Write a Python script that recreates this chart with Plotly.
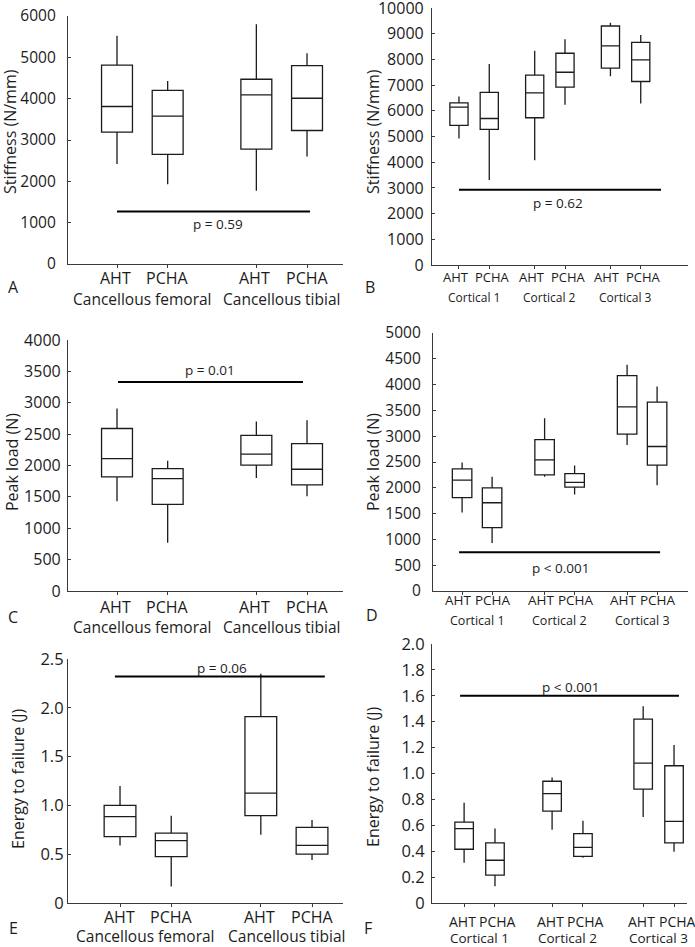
import plotly.graph_objects as go

W, H = 695, 947
FONT = "Open Sans"
INK = "#1c1c1c"
AXIS = "#3a3a3a"

# ---------------- data ----------------
treatments = ["AHT", "PCHA"]
groups_canc = ["Cancellous femoral", "Cancellous tibial"]
groups_cort = ["Cortical 1", "Cortical 2", "Cortical 3"]

# A - stiffness, cancellous (N/mm); order AHT fem, PCHA fem, AHT tib, PCHA tib
stiff_canc_low = [2420, 1930, 1770, 2600]
stiff_canc_q1 = [3190, 2650, 2780, 3230]
stiff_canc_med = [3810, 3580, 4090, 4010]
stiff_canc_q3 = [4810, 4200, 4470, 4800]
stiff_canc_high = [5520, 4430, 5800, 5100]
stiff_canc_pline = 1270
stiff_canc_ptext = "p = 0.59"

# B - stiffness, cortical (N/mm); AHT/PCHA for cortical 1, 2, 3
stiff_cort_low = [4920, 3310, 4080, 6240, 7340, 6280]
stiff_cort_q1 = [5430, 5280, 5730, 6920, 7660, 7140]
stiff_cort_med = [6140, 5700, 6700, 7500, 8530, 7980]
stiff_cort_q3 = [6310, 6720, 7390, 8240, 9300, 8660]
stiff_cort_high = [6560, 7820, 8340, 8780, 9430, 8950]
stiff_cort_pline = 2930
stiff_cort_ptext = "p = 0.62"

# C - peak load, cancellous (N)
load_canc_low = [1430, 770, 1800, 1510]
load_canc_q1 = [1820, 1380, 2005, 1690]
load_canc_med = [2110, 1790, 2180, 1940]
load_canc_q3 = [2590, 1950, 2480, 2350]
load_canc_high = [2910, 2075, 2700, 2720]
load_canc_pline = 3330
load_canc_ptext = "p = 0.01"

# D - peak load, cortical (N)
load_cort_low = [1520, 930, 2215, 1870, 2830, 2050]
load_cort_q1 = [1810, 1230, 2250, 2015, 3040, 2440]
load_cort_med = [2150, 1710, 2540, 2105, 3570, 2800]
load_cort_q3 = [2365, 2000, 2935, 2275, 4175, 3660]
load_cort_high = [2490, 2215, 3350, 2430, 4385, 3965]
load_cort_pline = 750
load_cort_ptext = "p < 0.001"

# E - energy to failure, cancellous (J)
energy_canc_low = [0.59, 0.17, 0.70, 0.44]
energy_canc_q1 = [0.68, 0.475, 0.895, 0.50]
energy_canc_med = [0.885, 0.64, 1.125, 0.59]
energy_canc_q3 = [1.0, 0.715, 1.91, 0.775]
energy_canc_high = [1.2, 0.895, 2.35, 0.85]
energy_canc_pline = 2.32
energy_canc_ptext = "p = 0.06"

# F - energy to failure, cortical (J)
energy_cort_low = [0.31, 0.13, 0.565, 0.35, 0.665, 0.395]
energy_cort_q1 = [0.415, 0.215, 0.71, 0.36, 0.88, 0.465]
energy_cort_med = [0.575, 0.33, 0.845, 0.43, 1.08, 0.63]
energy_cort_q3 = [0.625, 0.465, 0.94, 0.535, 1.42, 1.06]
energy_cort_high = [0.775, 0.575, 0.97, 0.635, 1.52, 1.22]
energy_cort_pline = 1.6
energy_cort_ptext = "p < 0.001"

# y ticks
ticks_stiff_canc = [0, 1000, 2000, 3000, 4000, 5000, 6000]
ticks_stiff_cort = [0, 1000, 2000, 3000, 4000, 5000, 6000, 7000, 8000, 9000, 10000]
ticks_load_canc = [0, 500, 1000, 1500, 2000, 2500, 3000, 3500, 4000]
ticks_load_cort = [0, 500, 1000, 1500, 2000, 2500, 3000, 3500, 4000, 4500, 5000]
ticks_energy_canc = [0, 0.5, 1.0, 1.5, 2.0, 2.5]
labels_energy_canc = ["0", "0.5", "1.0", "1.5", "2.0", "2.5"]
ticks_energy_cort = [0, 0.2, 0.4, 0.6, 0.8, 1.0, 1.2, 1.4, 1.6, 1.8, 2.0]
labels_energy_cort = ["0", "0.2", "0.4", "0.6", "0.8", "1.0", "1.2", "1.4", "1.6", "1.8", "2.0"]

title_stiff = "Stiffness (N/mm)"
title_load = "Peak load (N)"
title_energy = "Energy to failure (J)"


def px_x(v):
    return v / W


def px_y(v):
    return 1 - v / H


def font(size):
    return dict(family=FONT, size=size, color=INK, weight=500)


panels = [
    dict(letter="A", stats=(stiff_canc_low, stiff_canc_q1, stiff_canc_med, stiff_canc_q3, stiff_canc_high),
         groups=groups_canc, pline=stiff_canc_pline, ptext=stiff_canc_ptext,
         yt=ticks_stiff_canc, yl=[str(t) for t in ticks_stiff_canc], ytitle=title_stiff,
         xpx=(68, 343), ypx=(16, 264), pos=[0, 1, 2.75, 3.75], xr=[-0.967, 4.46], bw=0.61,
         pext=(0, 3.81), ptx=2.0, pshift=-12, trt_y=278, grp_y=299, let=(13, 287), tit=(10, 132),
         tf=16, gf=15.5, yf=15.5, ystand=8, nudge=(-2, 0)),
    dict(letter="B", stats=(stiff_cort_low, stiff_cort_q1, stiff_cort_med, stiff_cort_q3, stiff_cort_high),
         groups=groups_cort, pline=stiff_cort_pline, ptext=stiff_cort_ptext,
         yt=ticks_stiff_cort, yl=[str(t) for t in ticks_stiff_cort], ytitle=title_stiff,
         xpx=(432, 688), ypx=(8, 265), pos=[0, 1, 2.5, 3.5, 5, 6], xr=[-0.89, 7.56], bw=0.6,
         pext=(0, 6.67), ptx=3.27, pshift=-13, trt_y=277, grp_y=297, let=(370, 287), tit=(373, 131),
         tf=13, gf=12, yf=16, ystand=4, nudge=(-3, 3)),
    dict(letter="C", stats=(load_canc_low, load_canc_q1, load_canc_med, load_canc_q3, load_canc_high),
         groups=groups_canc, pline=load_canc_pline, ptext=load_canc_ptext,
         yt=ticks_load_canc, yl=[str(t) for t in ticks_load_canc], ytitle=title_load,
         xpx=(68, 343), ypx=(340, 591), pos=[0, 1, 2.75, 3.75], xr=[-0.967, 4.46], bw=0.61,
         pext=(0.02, 3.67), ptx=1.84, pshift=12, trt_y=607, grp_y=627, let=(13, 617), tit=(12, 462),
         tf=16, gf=15.5, yf=16, ystand=3, nudge=(-2, 0)),
    dict(letter="D", stats=(load_cort_low, load_cort_q1, load_cort_med, load_cort_q3, load_cort_high),
         groups=groups_cort, pline=load_cort_pline, ptext=load_cort_ptext,
         yt=ticks_load_cort, yl=[str(t) for t in ticks_load_cort], ytitle=title_load,
         xpx=(433, 688), ypx=(333, 591), pos=[0, 1, 2.75, 3.75, 5.5, 6.5], xr=[-0.97, 7.53], bw=0.65,
         pext=(-0.1, 6.6), ptx=3.27, pshift=-16, trt_y=600, grp_y=620, let=(372, 615), tit=(373, 462),
         tf=13.5, gf=12.5, yf=15.5, ystand=8, nudge=(-4, 1)),
    dict(letter="E", stats=(energy_canc_low, energy_canc_q1, energy_canc_med, energy_canc_q3, energy_canc_high),
         groups=groups_canc, pline=energy_canc_pline, ptext=energy_canc_ptext,
         yt=ticks_energy_canc, yl=labels_energy_canc, ytitle=title_energy,
         xpx=(68, 343), ypx=(659, 903), pos=[0, 1, 2.75, 3.75], xr=[-1.016, 4.355], bw=0.62,
         pext=(-0.1, 4.0), ptx=1.99, pshift=9, trt_y=917, grp_y=936, let=(13, 928), tit=(18, 779),
         tf=16, gf=15.5, yf=16.5, ystand=0, nudge=(-1, 0)),
    dict(letter="F", stats=(energy_cort_low, energy_cort_q1, energy_cort_med, energy_cort_q3, energy_cort_high),
         groups=groups_cort, pline=energy_cort_pline, ptext=energy_cort_ptext,
         yt=ticks_energy_cort, yl=labels_energy_cort, ytitle=title_energy,
         xpx=(432, 687), ypx=(644, 903), pos=[0, 1, 2.85, 3.85, 5.8, 6.8], xr=[-1.04, 7.22], bw=0.6,
         pext=(-0.13, 6.96), ptx=3.43, pshift=9, trt_y=921, grp_y=938, let=(368, 928), tit=(373, 777),
         tf=14, gf=13.5, yf=16.5, ystand=3, nudge=(-2, 3)),
]

fig = go.Figure()
layout = {}
annotations = []
shapes = []

for i, p in enumerate(panels):
    n = "" if i == 0 else str(i + 1)
    xa, ya = "x" + n, "y" + n
    low, q1, med, q3, high = p["stats"]

    fig.add_trace(go.Box(
        x=p["pos"], lowerfence=low, q1=q1, median=med, q3=q3, upperfence=high,
        width=p["bw"], whiskerwidth=0, boxpoints=False,
        fillcolor="white", line=dict(color=INK, width=1.3),
        xaxis=xa, yaxis=ya, showlegend=False, hoverinfo="skip",
    ))

    layout["xaxis" + n] = dict(
        domain=[px_x(p["xpx"][0]), px_x(p["xpx"][1])], anchor=ya,
        range=p["xr"], showgrid=False, zeroline=False, automargin=False,
        showline=True, linecolor=AXIS, linewidth=1.2,
        ticks="outside", ticklen=3, tickwidth=1, tickcolor=AXIS,
        tickvals=p["pos"], showticklabels=False,
        fixedrange=True,
    )
    layout["yaxis" + n] = dict(
        domain=[px_y(p["ypx"][1]), px_y(p["ypx"][0])], anchor=xa,
        range=[p["yt"][0], p["yt"][-1]], showgrid=False, zeroline=False, automargin=False,
        showline=True, linecolor=AXIS, linewidth=1.2,
        ticks="inside", ticklen=3, tickwidth=1, tickcolor=AXIS,
        ticklabelstandoff=p["ystand"], ticklabeloverflow="allow",
        tickvals=p["yt"], ticktext=p["yl"],
        tickfont=font(p["yf"]),
        fixedrange=True,
    )

    # significance bar
    shapes.append(dict(type="line", xref=xa, yref=ya,
                       x0=p["pext"][0], x1=p["pext"][1], y0=p["pline"], y1=p["pline"],
                       line=dict(color="black", width=2)))
    annotations.append(dict(xref=xa, yref=ya, x=p["ptx"], y=p["pline"], yshift=p["pshift"],
                            text=p["ptext"], showarrow=False, font=font(13.5)))

    # AHT / PCHA under each tick, group name under each pair
    for k, x in enumerate(p["pos"]):
        annotations.append(dict(xref=xa, yref="paper", x=x, y=px_y(p["trt_y"]),
                                xshift=p["nudge"][k % 2], yanchor="middle",
                                text=treatments[k % 2], showarrow=False, font=font(p["tf"])))
    for g, name in enumerate(p["groups"]):
        mid = (p["pos"][2 * g] + p["pos"][2 * g + 1]) / 2
        annotations.append(dict(xref=xa, yref="paper", x=mid, y=px_y(p["grp_y"]),
                                yanchor="middle", text=name, showarrow=False,
                                font=font(p["gf"])))

    # y title and panel letter
    annotations.append(dict(xref="paper", yref="paper", x=px_x(p["tit"][0]), y=px_y(p["tit"][1]),
                            xanchor="center", yanchor="middle", textangle=-90,
                            text=p["ytitle"], showarrow=False, font=font(16)))
    annotations.append(dict(xref="paper", yref="paper", x=px_x(p["let"][0]), y=px_y(p["let"][1]),
                            xanchor="center", yanchor="middle",
                            text=p["letter"], showarrow=False, font=font(16)))

fig.update_layout(
    template="none",
    width=W, height=H, margin=dict(l=0, r=0, t=0, b=0, autoexpand=False),
    paper_bgcolor="white", plot_bgcolor="white",
    font=font(14),
    annotations=annotations, shapes=shapes, showlegend=False,
    **layout,
)

# the page's default body margin would push the figure 8px off the window
fig.write_html("out.html", config={"displayModeBar": False},
               post_script="document.body.style.margin='0';document.body.style.overflow='hidden';")
